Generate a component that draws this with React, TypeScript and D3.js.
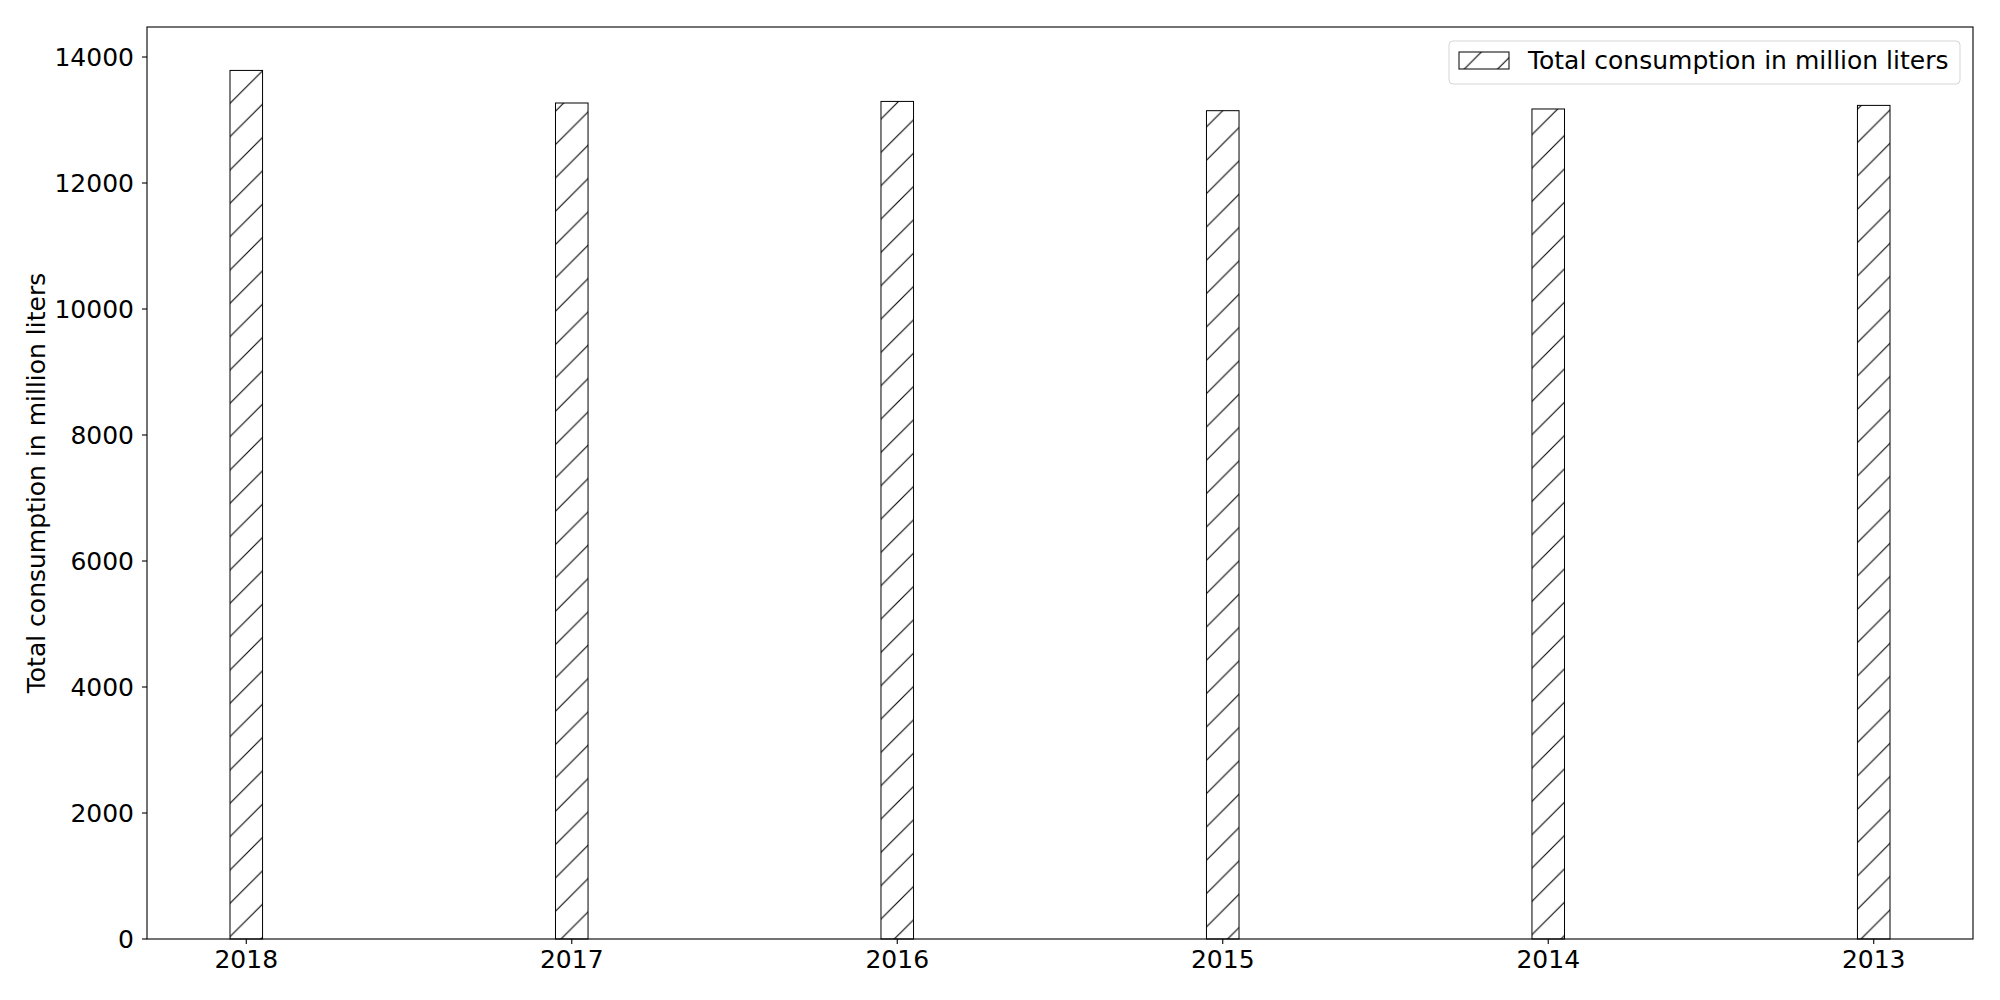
import * as d3 from "d3";
import { useEffect, useRef } from "react";

const years = ["2018", "2017", "2016", "2015", "2014", "2013"];
const consumption = [13787, 13270, 13295, 13148, 13175, 13232];
const yTicks = [0, 2000, 4000, 6000, 8000, 10000, 12000, 14000];
const seriesName = "Total consumption in million liters";

const App = () => {
    const ref = useRef<SVGSVGElement>(null);

    useEffect(() => {
        const svg = d3.select(ref.current);
        svg.selectAll("*").remove();

        const width = 2000;
        const height = 1000;
        const m = { left: 147, right: 1973, top: 27, bottom: 939 };
        const font = "DejaVu Sans, sans-serif";
        const hatch = 100 / 3;

        // hatch pattern, anchored to the page like matplotlib's
        const pat = svg.append("defs").append("pattern")
            .attr("id", "hatch")
            .attr("patternUnits", "userSpaceOnUse")
            .attr("width", hatch)
            .attr("height", hatch);
        pat.append("path")
            .attr("d", `M0,${hatch} L${hatch},0 M-2,2 L2,-2 M${hatch - 2},${hatch + 2} L${hatch + 2},${hatch - 2}`)
            .attr("stroke", "#000")
            .attr("stroke-width", 1.1)
            .attr("fill", "none");

        svg.append("rect").attr("width", width).attr("height", height).attr("fill", "#fff");

        // matplotlib margins: 0.05 of the data range (bars width 0.1)
        const xScale = d3.scaleLinear()
            .domain([-0.305, years.length - 1 + 0.305])
            .range([m.left, m.right]);
        const yScale = d3.scaleLinear()
            .domain([0, (d3.max(consumption) as number) * 1.05])
            .range([m.bottom, m.top]);
        const barW = xScale(0.1) - xScale(0);

        const bars = svg.append("g")
            .selectAll("g")
            .data(consumption)
            .enter()
            .append("g");
        bars.append("rect")
            .attr("x", (d, i) => xScale(i) - barW / 2)
            .attr("y", (d) => yScale(d))
            .attr("width", barW)
            .attr("height", (d) => yScale(0) - yScale(d))
            .attr("fill", "#fff");
        bars.append("rect")
            .attr("x", (d, i) => xScale(i) - barW / 2)
            .attr("y", (d) => yScale(d))
            .attr("width", barW)
            .attr("height", (d) => yScale(0) - yScale(d))
            .attr("fill", "url(#hatch)")
            .attr("stroke", "#000")
            .attr("stroke-width", 1);

        // frame
        svg.append("rect")
            .attr("x", m.left).attr("y", m.top)
            .attr("width", m.right - m.left).attr("height", m.bottom - m.top)
            .attr("fill", "none").attr("stroke", "#000").attr("stroke-width", 1.1);

        // y axis
        const yAxis = svg.append("g");
        yTicks.forEach((t) => {
            yAxis.append("line")
                .attr("x1", m.left - 5).attr("x2", m.left)
                .attr("y1", yScale(t)).attr("y2", yScale(t))
                .attr("stroke", "#000").attr("stroke-width", 1.1);
            yAxis.append("text")
                .attr("x", m.left - 13)
                .attr("y", yScale(t))
                .attr("dy", "0.36em")
                .attr("text-anchor", "end")
                .attr("font-family", font)
                .attr("font-size", 25)
                .text(t);
        });

        // x axis
        const xAxis = svg.append("g");
        years.forEach((y, i) => {
            xAxis.append("line")
                .attr("x1", xScale(i)).attr("x2", xScale(i))
                .attr("y1", m.bottom).attr("y2", m.bottom + 5)
                .attr("stroke", "#000").attr("stroke-width", 1.1);
            xAxis.append("text")
                .attr("x", xScale(i))
                .attr("y", 968)
                .attr("text-anchor", "middle")
                .attr("font-family", font)
                .attr("font-size", 25)
                .text(y);
        });

        svg.append("text")
            .attr("transform", `translate(45, ${(m.top + m.bottom) / 2}) rotate(-90)`)
            .attr("text-anchor", "middle")
            .attr("font-family", font)
            .attr("font-size", 25)
            .text(seriesName);

        // legend
        const lg = svg.append("g");
        lg.append("rect")
            .attr("x", 1449).attr("y", 41)
            .attr("width", 511).attr("height", 43)
            .attr("rx", 4)
            .attr("fill", "#fff").attr("fill-opacity", 0.8)
            .attr("stroke", "#d5d5d5").attr("stroke-width", 1);
        lg.append("rect")
            .attr("x", 1459).attr("y", 52)
            .attr("width", 50).attr("height", 17)
            .attr("fill", "url(#hatch)")
            .attr("stroke", "#000").attr("stroke-width", 1);
        lg.append("text")
            .attr("x", 1528).attr("y", 69)
            .attr("font-family", font)
            .attr("font-size", 25)
            .text(seriesName);
    }, []);

    return (
        <div style={{ position: "absolute", left: 0, top: 0 }}>
            <svg ref={ref} width={2000} height={1000} style={{ display: "block" }} />
        </div>
    );
};

export default App;
